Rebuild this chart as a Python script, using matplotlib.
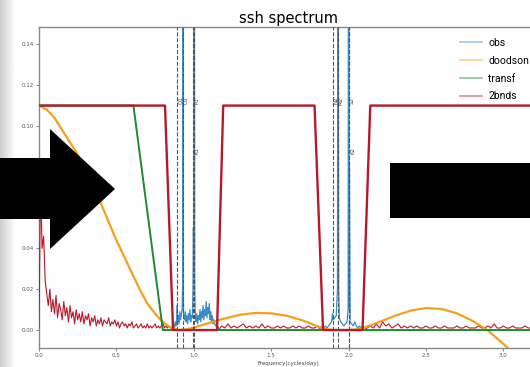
import numpy as np
import matplotlib
matplotlib.use('Agg')
import matplotlib.pyplot as plt
from matplotlib.patches import Polygon, Rectangle

# ---------------- data ----------------
# filter responses
band_f = [0.0, 0.814, 0.866, 1.15, 1.19, 1.78, 1.835, 2.09, 2.14, 3.3]
band_v = [0.11, 0.11, 0.0, 0.0, 0.11, 0.11, 0.0, 0.0, 0.11, 0.11]
transf_f = [0.0, 0.61, 0.80, 3.3]
transf_v = [0.11, 0.11, 0.0, 0.0]
doodson_f = [0.00, 0.05, 0.10, 0.15, 0.20, 0.25, 0.30, 0.35, 0.40, 0.45, 0.50,
             0.55, 0.60, 0.65, 0.70, 0.75, 0.80, 0.85, 0.90, 0.95, 1.00, 1.10,
             1.20, 1.30, 1.40, 1.50, 1.60, 1.70, 1.80, 1.85, 1.90, 1.95, 2.00,
             2.05, 2.10, 2.20, 2.30, 2.40, 2.50, 2.60, 2.70, 2.80, 2.90, 3.00,
             3.10, 3.20]
doodson_v = [0.110, 0.108, 0.104, 0.098, 0.092, 0.086, 0.079, 0.071, 0.062,
             0.053, 0.044, 0.036, 0.028, 0.020, 0.013, 0.008, 0.004, 0.0012,
             0.0, 0.0003, 0.0012, 0.0035, 0.0057, 0.0075, 0.0084, 0.0082,
             0.0070, 0.0048, 0.0018, 0.0005, 0.0, 0.0, 0.0, 0.0003, 0.0012,
             0.0040, 0.0070, 0.0095, 0.0108, 0.0103, 0.0082, 0.0045, -0.0002,
             -0.0068, -0.0140, -0.0220]

# filtered spectrum (red), three pass segments
red_a_range = (0.0, 0.86)
red_a = [0.001, 0.075, 0.040, 0.046, 0.024, 0.018, 0.012, 0.020, 0.009, 0.015,
         0.008, 0.017, 0.006, 0.013, 0.010, 0.005, 0.014, 0.007, 0.011, 0.004,
         0.012, 0.006, 0.009, 0.003, 0.010, 0.005, 0.008, 0.004, 0.009, 0.003,
         0.007, 0.005, 0.008, 0.002, 0.006, 0.004, 0.007, 0.002, 0.005, 0.003,
         0.006, 0.002, 0.005, 0.004, 0.003, 0.006, 0.002, 0.004, 0.003, 0.005,
         0.002, 0.004, 0.001, 0.003, 0.004, 0.002, 0.003, 0.001, 0.003, 0.002,
         0.004, 0.001, 0.002, 0.003, 0.001, 0.002, 0.003, 0.001, 0.002, 0.001,
         0.003, 0.001, 0.002, 0.001, 0.002, 0.003, 0.001, 0.002, 0.001, 0.002,
         0.004, 0.001, 0.002, 0.001, 0.002, 0.001, 0.000]
red_b_range = (1.16, 1.82)
red_b = [0.000, 0.002, 0.001, 0.003, 0.001, 0.002, 0.001, 0.002, 0.003, 0.001,
         0.002, 0.001, 0.002, 0.001, 0.003, 0.001, 0.002, 0.001, 0.001, 0.002,
         0.001, 0.002, 0.001, 0.001, 0.002, 0.001, 0.002, 0.001, 0.001, 0.002,
         0.001, 0.001, 0.002, 0.000]
red_c_range = (2.10, 3.22)
red_c = [0.000, 0.001, 0.002, 0.001, 0.003, 0.001, 0.004, 0.002, 0.003, 0.001,
         0.002, 0.003, 0.001, 0.002, 0.001, 0.002, 0.001, 0.002, 0.001, 0.001,
         0.002, 0.001, 0.001, 0.002, 0.001, 0.001, 0.002, 0.001, 0.001, 0.001,
         0.002, 0.001, 0.001, 0.002, 0.001, 0.001, 0.001, 0.002, 0.001, 0.001,
         0.002, 0.001, 0.003, 0.001, 0.001, 0.002, 0.001, 0.001, 0.002, 0.001,
         0.001, 0.001, 0.002, 0.001, 0.001, 0.002, 0.001]

# observed spectrum (blue) in the two notch bands
obs1_f = [0.86, 0.87, 0.875, 0.88, 0.885, 0.89, 0.893, 0.896, 0.90, 0.905,
          0.91, 0.915, 0.92, 0.925, 0.929, 0.9295, 0.930, 0.934, 0.94, 0.945,
          0.95, 0.955, 0.96, 0.965, 0.97, 0.975, 0.98, 0.985, 0.99, 0.995,
          0.9973, 1.0, 1.0027, 1.006, 1.01, 1.015, 1.02, 1.025, 1.03, 1.035,
          1.04, 1.045, 1.05, 1.055, 1.06, 1.065, 1.07, 1.075, 1.08, 1.085,
          1.09, 1.095, 1.10, 1.105, 1.11, 1.115, 1.12, 1.125, 1.13, 1.14,
          1.15, 1.16]
obs1_v = [0.002, 0.003, 0.001, 0.004, 0.002, 0.006, 0.012, 0.004, 0.007, 0.003,
          0.009, 0.005, 0.008, 0.010, 0.030, 0.300, 0.030, 0.008, 0.005, 0.009,
          0.004, 0.007, 0.003, 0.008, 0.005, 0.010, 0.004, 0.007, 0.006, 0.020,
          0.050, 0.030, 0.300, 0.020, 0.006, 0.004, 0.008, 0.003, 0.007, 0.005,
          0.010, 0.004, 0.009, 0.006, 0.012, 0.005, 0.010, 0.007, 0.014, 0.006,
          0.011, 0.008, 0.013, 0.005, 0.009, 0.004, 0.007, 0.003, 0.005, 0.002,
          0.003, 0.001]
obs2_f = [1.82, 1.83, 1.84, 1.85, 1.86, 1.87, 1.88, 1.89, 1.896, 1.90, 1.91,
          1.92, 1.928, 1.932, 1.936, 1.94, 1.95, 1.96, 1.97, 1.98, 1.99, 1.997,
          2.0, 2.003, 2.0055, 2.01, 2.02, 2.03, 2.04, 2.05, 2.06, 2.07, 2.08,
          2.09, 2.10]
obs2_v = [0.001, 0.002, 0.001, 0.002, 0.001, 0.002, 0.003, 0.004, 0.008, 0.005,
          0.006, 0.007, 0.020, 0.300, 0.020, 0.006, 0.004, 0.003, 0.002, 0.003,
          0.004, 0.010, 0.300, 0.010, 0.080, 0.004, 0.003, 0.002, 0.004, 0.002,
          0.001, 0.002, 0.001, 0.002, 0.001]

# tidal constituents
const_names = ['Q1', 'O1', 'P1', 'K1', 'N2', 'M2', 'S2', 'K2']
const_freq = [0.8932, 0.9295, 0.9973, 1.0027, 1.8960, 1.9323, 2.0000, 2.0055]
const_label_y = [0.1125, 0.1125, 0.1125, 0.088, 0.1125, 0.1125, 0.1125, 0.088]

xticks = [0.0, 0.5, 1.0, 1.5, 2.0, 2.5, 3.0]
yticks = [0.00, 0.02, 0.04, 0.06, 0.08, 0.10, 0.12, 0.14]

C_OBS = '#3a8cc8'
C_DOOD = '#f5a01a'
C_TRANSF = '#1f8a2e'
C_BAND = '#b8182c'

# ---------------- figure ----------------
W, H = 530, 367
fig = plt.figure(figsize=(W / 100, H / 100), dpi=100, facecolor='white')

# grey gradient strip at the left edge
bg = fig.add_axes([0, 0, 14 / W, 1])
grad = np.linspace(0.80, 0.98, 50)[None, :]
bg.imshow(grad, aspect='auto', cmap='gray', vmin=0, vmax=1, extent=[0, 1, 0, 1])
bg.axis('off')

left, right, top, bottom = 39, 538, 27, 348
ax = fig.add_axes([left / W, 1 - bottom / H, (right - left) / W, (bottom - top) / H])

ax.plot(obs1_f, obs1_v, color=C_OBS, lw=0.9, label='obs', zorder=2)
ax.plot(obs2_f, obs2_v, color=C_OBS, lw=0.9, zorder=2)

ax.plot(np.linspace(*red_a_range, len(red_a)), red_a, color=C_BAND, lw=0.8, zorder=3)
ax.plot(np.linspace(*red_b_range, len(red_b)), red_b, color=C_BAND, lw=0.8, zorder=3)
ax.plot(np.linspace(*red_c_range, len(red_c)), red_c, color=C_BAND, lw=0.8, zorder=3)

ax.plot(doodson_f, doodson_v, color=C_DOOD, lw=1.6, label='doodson', zorder=4)
ax.plot(transf_f, transf_v, color=C_TRANSF, lw=1.4, label='transf', zorder=5)
ax.plot(band_f, band_v, color=C_BAND, lw=1.7, label='2bnds', zorder=6)

for name, fr, ly in zip(const_names, const_freq, const_label_y):
    ax.axvline(fr, color='#555555', ls='--', lw=0.8, zorder=7)
    ax.text(fr + 0.004, ly, name, rotation=90, fontsize=4, color='#444444',
            ha='left', va='center', zorder=8)

ax.set_xlim(0, (right - left) / 154.8)
ax.set_ylim(-0.0088, 0.1485)
ax.set_xticks(xticks)
ax.set_xticklabels([f'{t:.1f}' for t in xticks])
ax.set_yticks(yticks)
ax.set_yticklabels([f'{t:.2f}' for t in yticks])
ax.tick_params(labelsize=4, length=2, width=0.5, colors='#555555', pad=1.5)
ax.set_xlabel('Frequency(cycles/day)', fontsize=4, color='#444444', labelpad=2)
ax.set_title('ssh spectrum', fontsize=10.5, pad=3)
for s in ['top', 'left', 'bottom']:
    ax.spines[s].set_color('#888888')
    ax.spines[s].set_linewidth(1.0)
ax.spines['right'].set_visible(False)

leg = ax.legend(loc='upper left', bbox_to_anchor=(460 / W, 1 - 38 / H),
                bbox_transform=fig.transFigure, frameon=False, borderpad=0,
                borderaxespad=0, handlelength=2.1,
                handletextpad=0.6, labelspacing=0.75,
                prop={'family': 'Roboto', 'size': 7.5})
for ln in leg.get_lines():
    ln.set_alpha(0.5)
    ln.set_linewidth(1.2)

# black arrow overlays
def fp(x, y):
    return (x / W, 1 - y / H)

arrow = Polygon([fp(0, 158), fp(50, 158), fp(50, 129), fp(115, 189),
                 fp(50, 249), fp(50, 219), fp(0, 219)], closed=True,
                facecolor='black', edgecolor='none', transform=fig.transFigure,
                zorder=20)
fig.add_artist(arrow)
x0, y0 = fp(390, 218)
rect = Rectangle((x0, y0), (530 - 390) / W, (218 - 163) / H, facecolor='black',
                 edgecolor='none', transform=fig.transFigure, zorder=20)
fig.add_artist(rect)

fig.savefig('out.png', dpi=100, facecolor='white')
